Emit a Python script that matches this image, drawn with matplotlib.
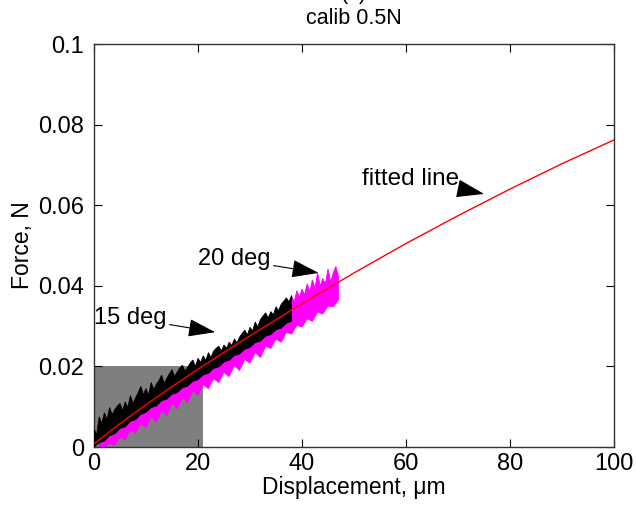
import matplotlib
matplotlib.use("Agg")
import matplotlib.pyplot as plt
from matplotlib.patches import Rectangle

plt.rcParams['font.family'] = ['Liberation Sans', 'DejaVu Sans']

# Fitted calibration curve (displacement in um, force in N)
fit_x = [0, 5, 10, 15, 20, 25, 30, 35, 40, 50, 60, 70, 80, 90, 100]
fit_f = [0.0008, 0.0058, 0.0105, 0.0150, 0.0193, 0.0235, 0.0276, 0.0316,
         0.0356, 0.0432, 0.0505, 0.0574, 0.0640, 0.0703, 0.0762]

# 15 deg measurement: upper and lower edges of the noisy force trace
deg15_hi_x = [i * 0.5 for i in range(77)]
deg15_hi = [0.0045, 0.0030, 0.0075, 0.0058, 0.0085, 0.0068, 0.0098, 0.0080, 0.0093, 0.0102,
            0.0108, 0.0090, 0.0112, 0.0098, 0.0128, 0.0108, 0.0122, 0.0135, 0.0150, 0.0130,
            0.0145, 0.0128, 0.0160, 0.0142, 0.0156, 0.0165, 0.0178, 0.0158, 0.0170, 0.0182,
            0.0192, 0.0175, 0.0186, 0.0196, 0.0203, 0.0188, 0.0198, 0.0208, 0.0216, 0.0200,
            0.0220, 0.0210, 0.0226, 0.0215, 0.0234, 0.0222, 0.0238, 0.0245, 0.0250, 0.0238,
            0.0253, 0.0245, 0.0260, 0.0252, 0.0268, 0.0258, 0.0273, 0.0282, 0.0290, 0.0278,
            0.0297, 0.0288, 0.0310, 0.0298, 0.0316, 0.0325, 0.0333, 0.0320, 0.0336, 0.0328,
            0.0348, 0.0338, 0.0354, 0.0362, 0.0370, 0.0360, 0.0376]
deg15_lo_x = list(range(0, 39))
deg15_lo = [0.0000, 0.0010, 0.0015, 0.0028, 0.0033, 0.0046, 0.0050, 0.0064, 0.0068, 0.0081,
            0.0086, 0.0098, 0.0102, 0.0115, 0.0119, 0.0131, 0.0135, 0.0147, 0.0151, 0.0163,
            0.0167, 0.0179, 0.0183, 0.0195, 0.0199, 0.0211, 0.0215, 0.0227, 0.0231, 0.0243,
            0.0247, 0.0259, 0.0263, 0.0275, 0.0279, 0.0291, 0.0295, 0.0307, 0.0312]

# 20 deg measurement: upper and lower edges of the noisy force trace
deg20_hi_x = list(range(1, 36)) + [36 + i * 0.5 for i in range(23)]
deg20_hi = [0.0020, 0.0035, 0.0045, 0.0055, 0.0062, 0.0072, 0.0080, 0.0090, 0.0098, 0.0108,
            0.0115, 0.0125, 0.0132, 0.0142, 0.0150, 0.0160, 0.0168, 0.0178, 0.0186, 0.0195,
            0.0205, 0.0212, 0.0235, 0.0228, 0.0248, 0.0240, 0.0255, 0.0262, 0.0270, 0.0280,
            0.0290, 0.0298, 0.0305, 0.0318, 0.0325,
            0.0352, 0.0340, 0.0365, 0.0355, 0.0375, 0.0360, 0.0388, 0.0372, 0.0392, 0.0378,
            0.0405, 0.0385, 0.0415, 0.0395, 0.0432, 0.0400, 0.0418, 0.0405, 0.0442, 0.0410,
            0.0432, 0.0448, 0.0425]
deg20_lo_x = list(range(1, 48))
deg20_lo = [0.0000, 0.0000, 0.0008, 0.0005, 0.0025, 0.0018, 0.0042, 0.0035, 0.0058, 0.0048,
            0.0075, 0.0062, 0.0090, 0.0078, 0.0108, 0.0095, 0.0122, 0.0110, 0.0140, 0.0128,
            0.0155, 0.0145, 0.0170, 0.0160, 0.0185, 0.0175, 0.0202, 0.0190, 0.0218, 0.0208,
            0.0235, 0.0222, 0.0250, 0.0245, 0.0268, 0.0260, 0.0285, 0.0280, 0.0302, 0.0298,
            0.0318, 0.0312, 0.0335, 0.0330, 0.0350, 0.0348, 0.0365]

# Highlighted zoom window
box_x = [0, 21]
box_f = [0, 0.02]


def band(ax, x_hi, y_hi, x_lo, y_lo, color, z):
    xs = list(x_hi) + list(x_lo)[::-1]
    ys = list(y_hi) + list(y_lo)[::-1]
    ax.fill(xs, ys, facecolor=color, edgecolor=color, lw=0.6, zorder=z)


fig = plt.figure(figsize=(6.37, 5.07), dpi=100)
ax = fig.add_axes([0.1476, 0.1183, 0.8163, 0.7949])

ax.add_patch(Rectangle((box_x[0], box_f[0]), box_x[1] - box_x[0], box_f[1] - box_f[0],
                       facecolor='#7f7f7f', edgecolor='none', zorder=1))

band(ax, deg20_hi_x, deg20_hi, deg20_lo_x, deg20_lo, '#ff00ff', 2)
band(ax, deg15_hi_x, deg15_hi, deg15_lo_x, deg15_lo, 'black', 3)
ax.plot(fit_x, fit_f, color='red', lw=1.0, zorder=4)

ax.set_xlim(0, 100)
ax.set_ylim(0, 0.1)
ax.set_xticks([0, 20, 40, 60, 80, 100])
ax.set_yticks([0, 0.02, 0.04, 0.06, 0.08, 0.1])
ax.set_yticklabels(['0', '0.02', '0.04', '0.06', '0.08', '0.1'])
ax.tick_params(direction='in', top=True, right=True, labelsize=17, length=6, width=0.8)
ax.tick_params(axis='y', pad=7)
ax.tick_params(axis='x', pad=4)
for s in ax.spines.values():
    s.set_linewidth(1.0)
    s.set_color('#333333')

ax.set_xlabel('Displacement, μm', fontsize=16.5, labelpad=1)
ax.set_ylabel('Force, N', fontsize=16.5, labelpad=3)

fig.text(0.556, 0.964, 'calib 0.5N', fontsize=15.5, ha='center', va='center')
fig.text(0.556, 1.012, '(a)', fontsize=15.5, ha='center', va='center')

arrow = dict(arrowstyle='-|>,head_length=1.0,head_width=0.33', color='black',
             lw=0.8, shrinkA=0, shrinkB=0)
ax.annotate('fitted line', xy=(75, 0.0628), xytext=(70.3, 0.0666),
            fontsize=17.5, ha='right', va='center', arrowprops=arrow)
ax.annotate('20 deg', xy=(43.2, 0.0432), xytext=(34, 0.0466),
            fontsize=17, ha='right', va='center', arrowprops=arrow)
ax.annotate('15 deg', xy=(23.3, 0.0285), xytext=(14.0, 0.0320),
            fontsize=17, ha='right', va='center', arrowprops=arrow)

fig.savefig('out.png', dpi=100)
